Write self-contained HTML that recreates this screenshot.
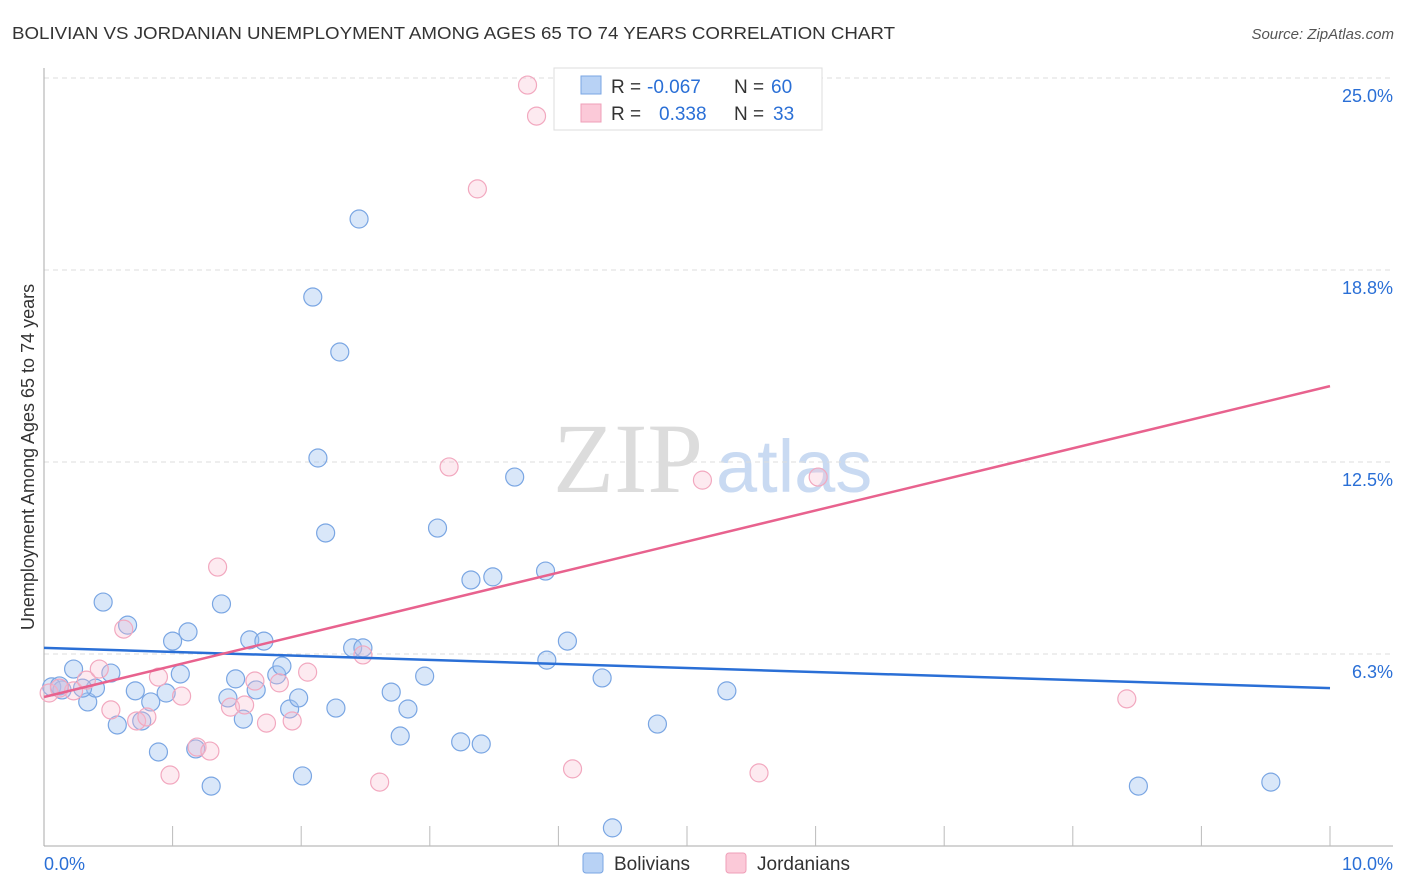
<!DOCTYPE html>
<html><head><meta charset="utf-8"><style>
body{margin:0;background:#fff;font-family:"Liberation Sans",sans-serif}
svg{display:block}
</style></head><body>
<svg id="c" width="1406" height="892" xmlns="http://www.w3.org/2000/svg">
<text x="12" y="39" font-size="17.5" fill="#333" textLength="883" lengthAdjust="spacingAndGlyphs">BOLIVIAN VS JORDANIAN UNEMPLOYMENT AMONG AGES 65 TO 74 YEARS CORRELATION CHART</text>
<text x="1394" y="39" font-size="15" fill="#555" font-style="italic" text-anchor="end">Source: ZipAtlas.com</text>
<g>
<text x="553" y="492" font-family="Liberation Serif" font-size="100" fill="#dcdcdc">ZIP</text>
<text x="716" y="492" font-size="74" fill="#c9daf2">atlas</text>
</g>
<g id="grid"></g>
<g id="axes"></g>
<g id="pts"></g>
<g id="lines"></g>
<text transform="translate(34,457) rotate(-90)" font-size="18" fill="#333" text-anchor="middle">Unemployment Among Ages 65 to 74 years</text>
<g>
<rect x="554" y="68" width="268" height="62" fill="#fff" stroke="#ddd"/>
<rect x="581" y="76" width="20" height="18" fill="#b8d2f5" stroke="#7aa6e3"/>
<rect x="581" y="104" width="20" height="18" fill="#fbc9d8" stroke="#ef9fb8"/>
<text x="611" y="93" font-size="19" fill="#333">R =</text>
<text x="647" y="93" font-size="19" fill="#2a6fd6">-0.067</text>
<text x="734" y="93" font-size="19" fill="#333">N =</text>
<text x="771" y="93" font-size="19" fill="#2a6fd6">60</text>
<text x="611" y="120" font-size="19" fill="#333">R =</text>
<text x="659" y="120" font-size="19" fill="#2a6fd6">0.338</text>
<text x="734" y="120" font-size="19" fill="#333">N =</text>
<text x="773" y="120" font-size="19" fill="#2a6fd6">33</text>
</g>
<g>
<rect x="583" y="853" width="20" height="20" rx="3" fill="#b8d2f5" stroke="#7aa6e3"/>
<text x="614" y="870" font-size="19" fill="#333">Bolivians</text>
<rect x="726" y="853" width="20" height="20" rx="3" fill="#fbc9d8" stroke="#ef9fb8"/>
<text x="757" y="870" font-size="19" fill="#333">Jordanians</text>
</g>
</svg>
<script>
const yTicks=[25,18.75,12.5,6.25];
const yTickLabels=["25.0%","18.8%","12.5%","6.3%"];
const xTickLabels=["0.0%","10.0%"];
const blueX=[0.06,0.14,0.23,0.34,0.40,0.46,0.52,0.57,0.65,0.71,0.76,0.83,0.89,0.95,1.00,1.06,1.12,1.18,1.30,1.38,1.43,1.49,1.55,1.60,1.65,1.71,1.81,1.85,1.91,1.98,2.01,2.09,2.13,2.19,2.27,2.30,2.40,2.45,2.48,2.70,2.77,2.83,2.96,3.06,3.24,3.32,3.40,3.49,3.66,3.90,3.91,4.07,4.34,4.42,4.77,5.31,8.51,9.54,0.12,0.30];
const blueY=[5.18,5.08,5.76,4.69,5.14,7.94,5.63,3.94,7.19,5.05,4.07,4.69,3.06,4.98,6.67,5.60,6.97,3.16,1.95,7.88,4.82,5.44,4.13,6.71,5.08,6.67,5.57,5.86,4.46,4.82,2.28,17.87,12.63,10.19,4.49,16.08,6.45,20.41,6.45,5.01,3.58,4.46,5.53,10.35,3.39,8.66,3.32,8.76,12.01,8.95,6.05,6.67,5.47,0.59,3.97,5.05,1.95,2.08,5.21,5.14];
const pinkX=[0.04,0.23,0.33,0.43,0.52,0.62,0.72,0.80,0.89,0.98,1.07,1.19,1.29,1.35,1.45,1.56,1.64,1.73,1.83,1.93,2.05,2.48,2.61,3.15,3.37,3.76,3.83,4.11,5.12,5.56,6.02,8.42,0.12];
const pinkY=[4.98,5.05,5.40,5.76,4.43,7.06,4.07,4.20,5.50,2.31,4.88,3.22,3.09,9.08,4.52,4.59,5.37,4.00,5.31,4.07,5.66,6.22,2.08,12.34,21.39,24.77,23.76,2.51,11.91,2.38,12.01,4.79,5.14];
const blueTrend=[6.45,5.14];
const pinkTrend=[4.85,14.97];
const X0=44,X1=1330,YB=846,YPX=30.72;
const sx=v=>X0+(v/10)*(X1-X0);
const sy=v=>YB-v*YPX;
const NS="http://www.w3.org/2000/svg";
function mk(t,a,p){const e=document.createElementNS(NS,t);for(const k in a)e.setAttribute(k,a[k]);p.appendChild(e);return e;}
const grid=document.getElementById('grid'),axes=document.getElementById('axes'),pts=document.getElementById('pts'),lines=document.getElementById('lines');
yTicks.forEach((v,i)=>{
 const l=mk('line',{x1:X0,x2:1393,y1:sy(v),y2:sy(v),stroke:'#ddd','stroke-dasharray':'5,4'},grid);
 
 
 const t=mk('text',{x:1393,y:sy(v)+24,'font-size':18,fill:'#2a6fd6','text-anchor':'end'},axes);
 t.textContent=yTickLabels[i];
 
 
});
const ya=mk('line',{x1:X0,x2:X0,y1:68,y2:846,stroke:'#aaa'},axes);


const xa=mk('line',{x1:X0,x2:1393,y1:846,y2:846,stroke:'#aaa'},axes);


for(let i=1;i<=10;i++){
 const tk=mk('line',{x1:sx(i),x2:sx(i),y1:826,y2:846,stroke:'#bbb'},axes);
 
 
}
[[0,'start',44],[10,'end',1393]].forEach((a,i)=>{
 const t=mk('text',{x:a[2],y:870,'font-size':18,fill:'#2a6fd6','text-anchor':a[1]},axes);
 t.textContent=xTickLabels[i];
 
 
});
blueX.forEach((x,i)=>{
 const c=mk('circle',{cx:sx(x),cy:sy(blueY[i]),r:9,fill:'rgba(160,195,240,0.4)',stroke:'#7aa6e3','stroke-width':1.2},pts);
 
 
});
pinkX.forEach((x,i)=>{
 const c=mk('circle',{cx:sx(x),cy:sy(pinkY[i]),r:9,fill:'rgba(248,185,205,0.3)',stroke:'#f2a8bf','stroke-width':1.2},pts);
 
 
});
const bl=mk('line',{x1:sx(0),x2:sx(10),y1:sy(blueTrend[0]),y2:sy(blueTrend[1]),stroke:'#2a6fd6','stroke-width':2.5},lines);


const pl=mk('line',{x1:sx(0),x2:sx(10),y1:sy(pinkTrend[0]),y2:sy(pinkTrend[1]),stroke:'#e8628e','stroke-width':2.5},lines);


</script>
</body></html>
